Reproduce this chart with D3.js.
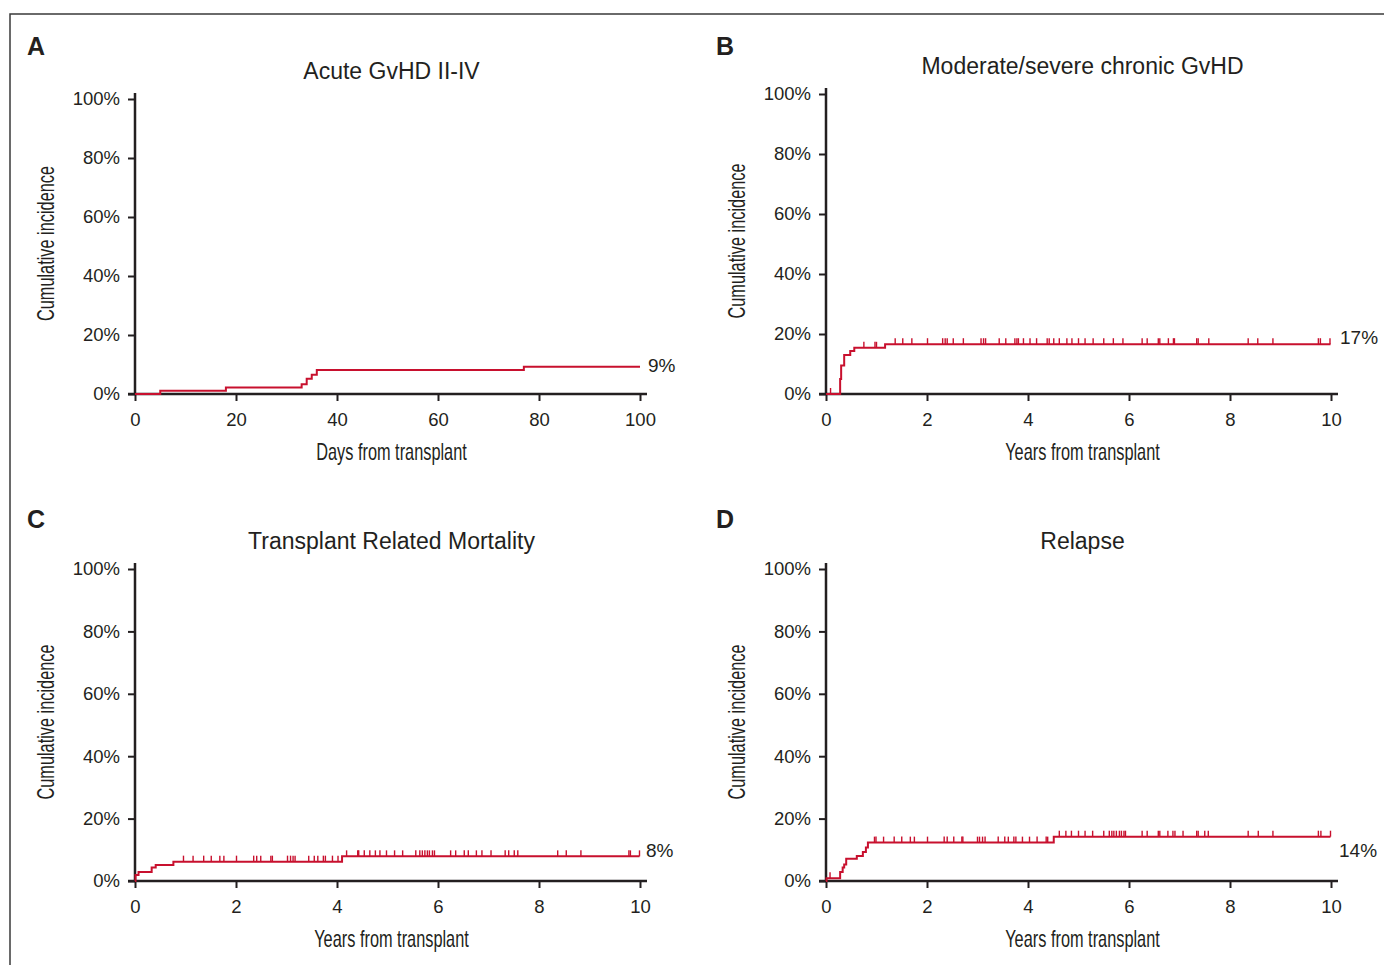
<!DOCTYPE html>
<html>
<head>
<meta charset="utf-8">
<script src="https://cdn.jsdelivr.net/npm/d3@7"></script>
<style>
  body { margin: 0; background: #fff; }
  text { fill: #231f20; }
  .tick-label { font-family: "Liberation Sans", Arial, sans-serif; font-size: 18.5px; }
  .end-label { font-family: "Liberation Sans", Arial, sans-serif; font-size: 19px; }
  .axis-title { font-family: "Liberation Sans", Arial, sans-serif; font-size: 23px; }
  .panel-title { font-family: "Liberation Sans", Arial, sans-serif; font-size: 23px; }
  .panel-letter { font-family: "Liberation Sans", Arial, sans-serif; font-size: 25px; font-weight: bold; }
</style>
</head>
<body>
<svg id="chart" width="1384" height="965"></svg>
<script>
const RED = "#c8102e";
const INK = "#231f20";

// y ticks shared by all panels (percent)
const Y_TICKS = [0, 20, 40, 60, 80, 100];
const DAY_TICKS = [0, 20, 40, 60, 80, 100];
const YEAR_TICKS = [0, 2, 4, 6, 8, 10];

// A: acute GvHD (days)
const acuteTimes = [0, 5, 18, 33, 34, 35, 36, 77, 100];
const acuteValues = [0, 1.1, 2.2, 3.3, 5.2, 6.5, 8.1, 9.2, 9.2];
const acuteCensor = [];

// B: chronic GvHD (years)
const chronicTimes = [0, 0.28, 0.30, 0.36, 0.48, 0.56, 1.17, 9.99];
const chronicValues = [0, 5, 9.5, 13, 14.3, 15.4, 16.6, 16.6];
const chronicCensor = [0.09, 0.75, 0.97, 1.0, 1.37, 1.52, 1.70, 2.01, 2.31, 2.36, 2.40, 2.52,
  2.72, 3.07, 3.12, 3.16, 3.43, 3.56, 3.74, 3.78, 3.81, 3.91, 4.04, 4.17, 4.38, 4.42, 4.51,
  4.62, 4.77, 4.87, 5.0, 5.13, 5.29, 5.50, 5.69, 5.88, 6.26, 6.36, 6.58, 6.61, 6.78, 6.88,
  6.90, 7.34, 7.37, 7.58, 8.36, 8.55, 8.85, 9.75, 9.79, 9.98];

// C: transplant related mortality (years)
const trmTimes = [0, 0.01, 0.07, 0.33, 0.41, 0.76, 4.10, 9.99];
const trmValues = [0, 1.9, 2.9, 4.3, 5.1, 6.2, 7.9, 7.9];
const trmCensor = [0.96, 1.15, 1.36, 1.51, 1.68, 1.76, 2.01, 2.35, 2.41, 2.49, 2.69, 2.72,
  3.02, 3.08, 3.13, 3.17, 3.44, 3.55, 3.62, 3.73, 3.77, 3.91, 4.02, 4.19, 4.41, 4.43, 4.54,
  4.65, 4.76, 4.85, 4.98, 5.14, 5.30, 5.56, 5.64, 5.69, 5.74, 5.79, 5.83, 5.89, 5.93, 6.25,
  6.35, 6.52, 6.60, 6.76, 6.87, 7.05, 7.33, 7.40, 7.51, 7.58, 8.37, 8.54, 8.83, 9.78, 9.81, 9.99];

// D: relapse (years)
const relapseTimes = [0, 0.01, 0.28, 0.33, 0.36, 0.40, 0.61, 0.73, 0.79, 0.83, 4.51, 9.99];
const relapseValues = [0, 0.9, 2.9, 4.3, 5.3, 7.1, 8.0, 9.3, 10.7, 12.3, 14.2, 14.2];
const relapseCensor = [0.08, 0.96, 0.99, 1.14, 1.35, 1.50, 1.67, 1.75, 2.01, 2.34, 2.40, 2.53,
  2.69, 2.71, 3.00, 3.04, 3.10, 3.15, 3.41, 3.54, 3.61, 3.72, 3.76, 3.89, 4.03, 4.18, 4.36,
  4.39, 4.62, 4.75, 4.86, 5.0, 5.13, 5.28, 5.50, 5.61, 5.66, 5.70, 5.75, 5.81, 5.85, 5.90,
  5.93, 6.26, 6.36, 6.58, 6.61, 6.77, 6.87, 6.91, 7.07, 7.34, 7.37, 7.50, 7.57, 8.36, 8.56,
  8.85, 9.75, 9.80, 9.99];

const panels = [
  { letter: "A", title: "Acute GvHD II-IV", xLabel: "Days from transplant", xMax: 100, xTicks: DAY_TICKS,
    times: acuteTimes, values: acuteValues, censor: acuteCensor, endLabel: "9%",
    x0: 135, x1: 640, y0: 394, y1: 99, titleY: 79, letterX: 27, letterY: 55, labelX: 648, labelDy: 5 },
  { letter: "B", title: "Moderate/severe chronic GvHD", xLabel: "Years from transplant", xMax: 10, xTicks: YEAR_TICKS,
    times: chronicTimes, values: chronicValues, censor: chronicCensor, endLabel: "17%",
    x0: 826, x1: 1331, y0: 394, y1: 94, titleY: 74, letterX: 716, letterY: 55, labelX: 1340, labelDy: 0 },
  { letter: "C", title: "Transplant Related Mortality", xLabel: "Years from transplant", xMax: 10, xTicks: YEAR_TICKS,
    times: trmTimes, values: trmValues, censor: trmCensor, endLabel: "8%",
    x0: 135, x1: 640, y0: 881, y1: 569, titleY: 549, letterX: 27, letterY: 528, labelX: 646, labelDy: 1 },
  { letter: "D", title: "Relapse", xLabel: "Years from transplant", xMax: 10, xTicks: YEAR_TICKS,
    times: relapseTimes, values: relapseValues, censor: relapseCensor, endLabel: "14%",
    x0: 826, x1: 1331, y0: 881, y1: 569, titleY: 549, letterX: 716, letterY: 528, labelX: 1339, labelDy: 20 },
];

const svg = d3.select("#chart");

// outer frame (only top and left edges fall inside the page)
svg.append("rect")
  .attr("x", 10).attr("y", 14)
  .attr("width", 1400).attr("height", 1000)
  .attr("fill", "none").attr("stroke", "#3a3a3a").attr("stroke-width", 1.5);

// value of the step curve at time t
function stepValue(times, values, t) {
  let v = 0;
  times.forEach((tt, i) => { if (tt <= t) v = values[i]; });
  return v;
}

function setupPanel(g, p) {
  const xScale = d3.scaleLinear().domain([0, p.xMax]).range([p.x0, p.x1]);
  const yScale = d3.scaleLinear().domain([0, 100]).range([p.y0, p.y1]);

  // y axis
  const yAxis = g.append("g")
    .attr("transform", `translate(${p.x0}, 0)`)
    .call(d3.axisLeft(yScale).tickValues(Y_TICKS).tickSize(7).tickPadding(8).tickFormat((d) => d + "%"));
  yAxis.select(".domain").remove();
  yAxis.selectAll(".tick line").attr("stroke", INK).attr("stroke-width", 2);
  yAxis.selectAll(".tick text").attr("class", "tick-label");
  yAxis.attr("font-size", null).attr("font-family", null);

  // x axis
  const xAxis = g.append("g")
    .attr("transform", `translate(0, ${p.y0})`)
    .call(d3.axisBottom(xScale).tickValues(p.xTicks).tickSize(7).tickPadding(12));
  xAxis.select(".domain").remove();
  xAxis.selectAll(".tick line").attr("stroke", INK).attr("stroke-width", 2);
  xAxis.selectAll(".tick text").attr("class", "tick-label");
  xAxis.attr("font-size", null).attr("font-family", null);

  // axis lines, slightly overshooting the scale range
  g.append("line")
    .attr("x1", p.x0).attr("x2", p.x0)
    .attr("y1", yScale(100) - 6).attr("y2", p.y0)
    .attr("stroke", INK).attr("stroke-width", 2.5);
  g.append("line")
    .attr("x1", p.x0 - 7).attr("x2", xScale(p.xMax) + 7)
    .attr("y1", p.y0).attr("y2", p.y0)
    .attr("stroke", INK).attr("stroke-width", 2.5);

  // axis titles (narrow face, squeezed horizontally)
  g.append("text")
    .attr("class", "axis-title")
    .attr("text-anchor", "middle")
    .attr("transform", `translate(${(p.x0 + p.x1) / 2 + 4}, ${p.y0 + 66}) scale(0.71, 1)`)
    .text(p.xLabel);
  g.append("text")
    .attr("class", "axis-title")
    .attr("text-anchor", "middle")
    .attr("transform", `translate(${p.x0 - 81}, ${(p.y0 + p.y1) / 2 - 3}) rotate(-90) scale(0.71, 1)`)
    .text("Cumulative incidence");

  // panel title and letter
  g.append("text")
    .attr("class", "panel-title")
    .attr("text-anchor", "middle")
    .attr("x", (p.x0 + p.x1) / 2 + 4)
    .attr("y", p.titleY)
    .text(p.title);
  g.append("text")
    .attr("class", "panel-letter")
    .attr("x", p.letterX)
    .attr("y", p.letterY)
    .text(p.letter);

  return { xScale, yScale };
}

function drawCurve(g, p, scales) {
  const pts = p.times.map((t, i) => ({ t, v: p.values[i] }));

  g.append("path")
    .datum(pts)
    .attr("fill", "none")
    .attr("stroke", RED)
    .attr("stroke-width", 2)
    .attr("d", d3.line()
      .x((d) => scales.xScale(d.t))
      .y((d) => scales.yScale(d.v))
      .curve(d3.curveStepAfter));

  // censoring marks
  g.selectAll(".censor")
    .data(p.censor)
    .join("line")
    .attr("class", "censor")
    .attr("x1", (d) => scales.xScale(d))
    .attr("x2", (d) => scales.xScale(d))
    .attr("y1", (d) => scales.yScale(stepValue(p.times, p.values, d)))
    .attr("y2", (d) => scales.yScale(stepValue(p.times, p.values, d)) - 6)
    .attr("stroke", RED)
    .attr("stroke-width", 1.4);

  // final value label
  const last = pts[pts.length - 1];
  g.append("text")
    .attr("class", "end-label")
    .attr("x", p.labelX)
    .attr("y", scales.yScale(last.v) + p.labelDy)
    .text(p.endLabel);
}

panels.forEach((p) => {
  const g = svg.append("g").attr("class", `panel panel-${p.letter}`);
  const scales = setupPanel(g, p);
  drawCurve(g, p, scales);
});
</script>
</body>
</html>
